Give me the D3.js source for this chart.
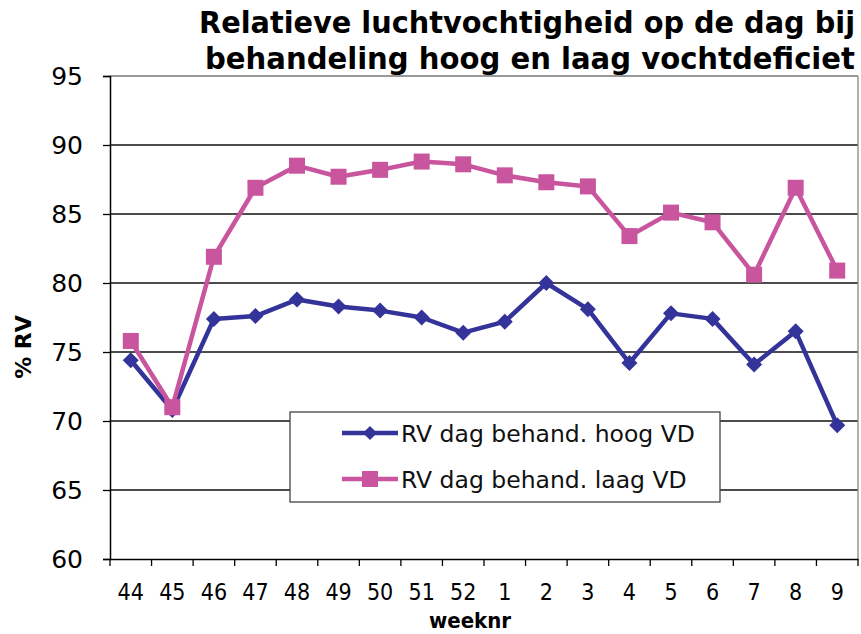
<!DOCTYPE html>
<html><head><meta charset="utf-8">
<script src="https://cdn.jsdelivr.net/npm/d3@7/dist/d3.min.js"></script>
<style>body{margin:0;background:#fff}svg{display:block}</style>
</head><body>
<script>
const weeks = ["44","45","46","47","48","49","50","51","52","1","2","3","4","5","6","7","8","9"];
const hoogVD = [74.4,70.8,77.4,77.6,78.8,78.3,78.0,77.5,76.4,77.2,80.0,78.1,74.2,77.8,77.4,74.1,76.5,69.7];
const laagVD = [75.8,71.0,81.9,86.9,88.5,87.7,88.2,88.8,88.6,87.8,87.3,87.0,83.4,85.1,84.4,80.6,86.9,80.9];
const yTicks = [60,65,70,75,80,85,90,95];
const seriesNames = ["RV dag behand. hoog VD","RV dag behand. laag VD"];
const titleLines = ["Relatieve luchtvochtigheid op de dag bij","behandeling hoog en laag vochtdeficiet"];

const W=861,H=634;
const L=110,R=858,T=76,B=559;
const svg=d3.select("body").append("svg").attr("width",W).attr("height",H);
const x=d3.scaleBand().domain(weeks).range([L,R]);
const y=d3.scaleLinear().domain([60,95]).range([B,T]);

// gridlines
svg.append("g").selectAll("line").data(yTicks.filter(v=>v>60)).join("line")
  .attr("x1",L).attr("x2",R).attr("y1",d=>y(d)).attr("y2",d=>y(d))
  .attr("stroke",d=>d===95?"#777":"#111").attr("stroke-width",1.3);
// right border
svg.append("line").attr("x1",R).attr("x2",R).attr("y1",T).attr("y2",B).attr("stroke","#888").attr("stroke-width",1.3);

// y axis
const ya=svg.append("g").attr("transform",`translate(${L},0)`)
  .call(d3.axisLeft(y).tickValues(yTicks).tickSize(7).tickPadding(20));
ya.select(".domain").attr("stroke","#000").attr("stroke-width",1.5);
ya.selectAll(".tick line").attr("stroke","#000").attr("stroke-width",1.3);
ya.selectAll("text").attr("font-family","DejaVu Sans, Verdana, sans-serif").attr("font-size",25).attr("fill","#000");

// x axis
const xa=svg.append("g").attr("transform",`translate(0,${B})`)
  .call(d3.axisBottom(x).tickSize(0).tickPadding(25));
xa.select(".domain").attr("stroke","#000").attr("stroke-width",1.5);
xa.selectAll("text").attr("font-family","Liberation Sans Narrow, DejaVu Sans Condensed, sans-serif").attr("font-size",23).attr("fill","#000");
// between-category tick marks
const bounds=weeks.map(w=>x(w)).concat([R]);
svg.append("g").selectAll("line").data(bounds).join("line")
  .attr("x1",d=>d).attr("x2",d=>d).attr("y1",B).attr("y2",B+7).attr("stroke","#000").attr("stroke-width",1.3);

const cx=w=>x(w)+x.bandwidth()/2;
const blue="#333399", pink="#c8559e";
const line=d3.line().x((d,i)=>cx(weeks[i])).y(d=>y(d));

function drawSeries(vals,color,shape){
  svg.append("path").datum(vals).attr("d",line).attr("fill","none").attr("stroke",color).attr("stroke-width",4.5).attr("stroke-linejoin","round");
  const g=svg.append("g");
  vals.forEach((v,i)=>{
    if(shape==="diamond"){
      g.append("path").attr("d",d3.symbol(d3.symbolSquare,128)())
       .attr("transform",`translate(${cx(weeks[i])},${y(v)}) rotate(45)`).attr("fill",color);
    } else {
      g.append("rect").attr("x",cx(weeks[i])-8).attr("y",y(v)-8).attr("width",16).attr("height",16).attr("fill",color);
    }
  });
}

const lg=svg.append("g");
lg.append("rect").attr("x",290).attr("y",412).attr("width",430).attr("height",90).attr("fill","#fff").attr("stroke","#444").attr("stroke-width",1.3);

drawSeries(hoogVD,blue,"diamond");
drawSeries(laagVD,pink,"square");

[[blue,"diamond",433],[pink,"square",479]].forEach(([c,s,ly],i)=>{
  lg.append("line").attr("x1",342).attr("x2",398).attr("y1",ly).attr("y2",ly).attr("stroke",c).attr("stroke-width",4.5);
  if(s==="diamond") lg.append("path").attr("d",d3.symbol(d3.symbolSquare,100)()).attr("transform",`translate(370,${ly}) rotate(45)`).attr("fill",c);
  else lg.append("rect").attr("x",362).attr("y",ly-8).attr("width",16).attr("height",16).attr("fill",c);
  lg.append("text").attr("x",401).attr("y",ly+8.5).text(seriesNames[i])
    .attr("font-family","DejaVu Sans, Verdana, sans-serif").attr("font-size",23.5).attr("fill","#111");
});
lg.raise();

// title
titleLines.forEach((t,i)=>{
  svg.append("text").attr("x",855).attr("y",33+i*36).attr("text-anchor","end")
    .attr("font-family","Liberation Sans Narrow, DejaVu Sans Condensed, sans-serif").attr("font-weight","bold")
    .attr("font-size",30).attr("fill","#000").attr("textLength",i===0?656:650).attr("lengthAdjust","spacingAndGlyphs").text(t);
});

// axis titles
svg.append("text").attr("x",470).attr("y",628).attr("text-anchor","middle")
  .attr("font-family","Liberation Sans Narrow, DejaVu Sans Condensed, sans-serif").attr("font-weight","bold").attr("font-size",22).text("weeknr");
svg.append("text").attr("transform","translate(31,347) rotate(-90)").attr("text-anchor","middle")
  .attr("font-family","DejaVu Sans, Verdana, sans-serif").attr("font-weight","bold").attr("font-size",22).text("% RV");
</script>
</body></html>
